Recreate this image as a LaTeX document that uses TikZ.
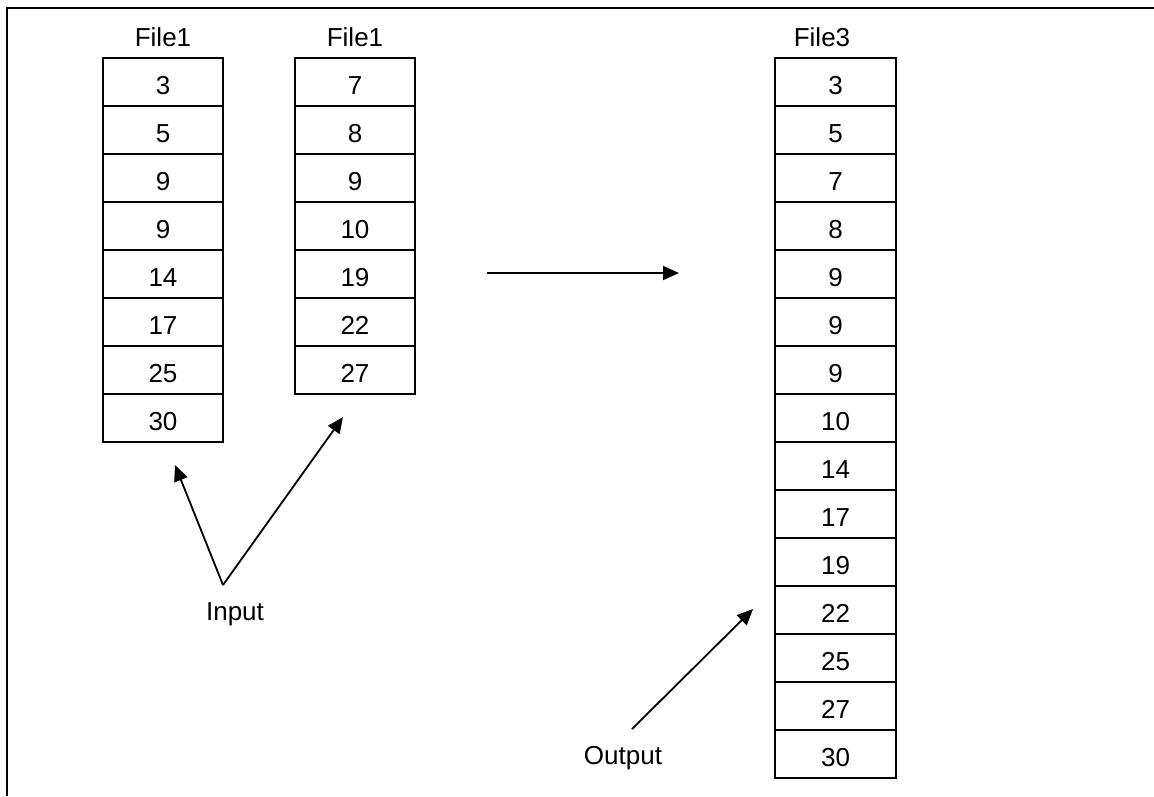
\documentclass[tikz,border=0pt]{standalone}
\usepackage{fontspec}
\setmainfont{Liberation Sans}
\usetikzlibrary{arrows.meta}
\begin{document}
\begin{tikzpicture}[x=1pt,y=-1pt,
  cell/.style={draw,line width=1.8pt,minimum width=120pt,minimum height=48pt,
    inner sep=0pt,anchor=north,font=\fontsize{26}{29}\selectfont,
    text height=26pt,text depth=0pt},
  title/.style={anchor=base,inner sep=0pt,font=\fontsize{26}{29}\selectfont},
  pointer/.style={line width=1.8pt,-{Triangle[length=16pt,width=14pt]}}]
\useasboundingbox (0,0) rectangle (1154,796);
% frame (left and top edges)
\draw[line width=2.4pt] (7,796) -- (7,8) -- (1154,8);

% first input file
\node[title] (t1) at (163,46) {File1};
\foreach \v [count=\i] in {3,5,9,9,14,17,25,30}
  \node[cell] (a\i) at (163,{57+48*(\i-1)}) {\v};

% second input file
\node[title] (t2) at (355,46) {File1};
\foreach \v [count=\i] in {7,8,9,10,19,22,27}
  \node[cell] (b\i) at (355,{57+48*(\i-1)}) {\v};

% merged output file
\node[title] (t3) at (822,46) {File3};
\foreach \v [count=\i] in {3,5,7,8,9,9,9,10,14,17,19,22,25,27,30}
  \node[cell,minimum width=121pt] (c\i) at (835.5,{57+48*(\i-1)}) {\v};

% merge arrow
\coordinate (m0) at (487,273);
\coordinate (m1) at (679,273);
\draw[pointer] (m0) -- (m1);

% input annotation
\node[title] (in) at (235,620) {Input};
\coordinate (inroot) at (223,585);
\coordinate (tipa) at (175,465);
\coordinate (tipb) at (343,417);
\draw[pointer] (inroot) -- (tipa);
\draw[pointer] (inroot) -- (tipb);

% output annotation
\node[title] (out) at (623,764) {Output};
\coordinate (outroot) at (632,729);
\coordinate (tipc) at (753,609);
\draw[pointer] (outroot) -- (tipc);
\end{tikzpicture}
\end{document}
